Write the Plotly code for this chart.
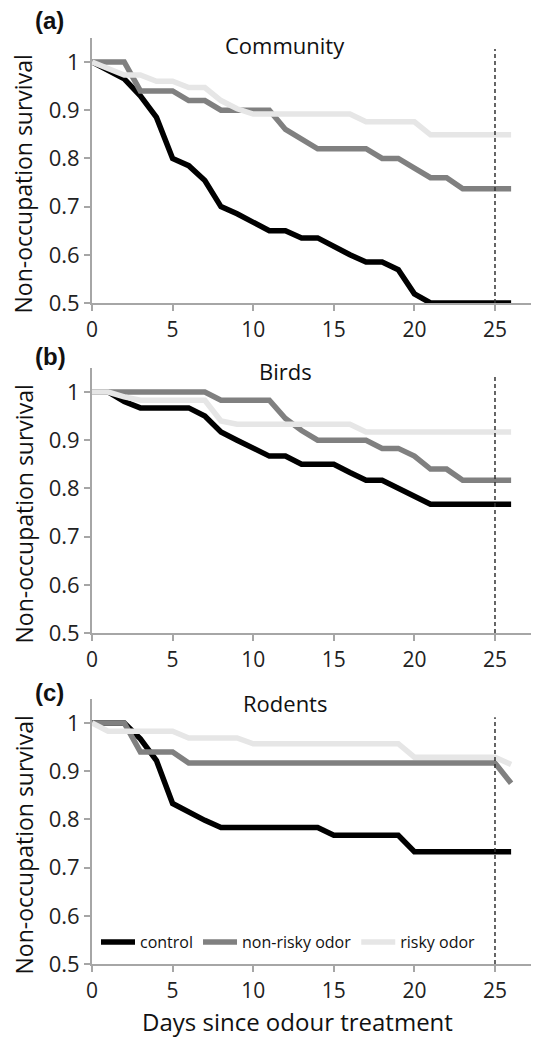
import plotly.graph_objects as go

days = list(range(27))

# Community
comm_control = [1.0, 0.983, 0.965, 0.93, 0.885, 0.80, 0.785, 0.754, 0.70, 0.685, 0.667, 0.65, 0.65,
                0.635, 0.635, 0.617, 0.60, 0.585, 0.585, 0.569, 0.519, 0.50, 0.50, 0.50, 0.50, 0.50, 0.50]
comm_nonrisky = [1.0, 1.0, 1.0, 0.94, 0.94, 0.94, 0.92, 0.92, 0.90, 0.90, 0.90, 0.90, 0.86, 0.84,
                 0.82, 0.82, 0.82, 0.82, 0.80, 0.80, 0.78, 0.76, 0.76, 0.737, 0.737, 0.737, 0.737]
comm_risky = [1.0, 0.985, 0.973, 0.973, 0.96, 0.96, 0.947, 0.947, 0.92, 0.903, 0.892, 0.892, 0.892,
              0.892, 0.892, 0.892, 0.892, 0.876, 0.876, 0.876, 0.876, 0.849, 0.849, 0.849, 0.849,
              0.849, 0.849]

# Birds
bird_control = [1.0, 1.0, 0.98, 0.967, 0.967, 0.967, 0.967, 0.95, 0.917, 0.90, 0.883, 0.867, 0.867,
                0.85, 0.85, 0.85, 0.833, 0.817, 0.817, 0.80, 0.783, 0.767, 0.767, 0.767, 0.767,
                0.767, 0.767]
bird_nonrisky = [1.0, 1.0, 1.0, 1.0, 1.0, 1.0, 1.0, 1.0, 0.983, 0.983, 0.983, 0.983, 0.945, 0.92,
                 0.90, 0.90, 0.90, 0.90, 0.883, 0.883, 0.867, 0.84, 0.84, 0.817, 0.817, 0.817, 0.817]
bird_risky = [1.0, 1.0, 0.99, 0.983, 0.983, 0.983, 0.983, 0.983, 0.94, 0.933, 0.933, 0.933, 0.933,
              0.933, 0.933, 0.933, 0.933, 0.917, 0.917, 0.917, 0.917, 0.917, 0.917, 0.917, 0.917,
              0.917, 0.917]

# Rodents
rod_control = [1.0, 1.0, 1.0, 0.967, 0.922, 0.833, 0.815, 0.798, 0.783, 0.783, 0.783, 0.783, 0.783,
               0.783, 0.783, 0.767, 0.767, 0.767, 0.767, 0.767, 0.733, 0.733, 0.733, 0.733, 0.733,
               0.733, 0.733]
rod_nonrisky = [1.0, 1.0, 1.0, 0.94, 0.94, 0.94, 0.917, 0.917, 0.917, 0.917, 0.917, 0.917, 0.917,
                0.917, 0.917, 0.917, 0.917, 0.917, 0.917, 0.917, 0.917, 0.917, 0.917, 0.917, 0.917,
                0.917, 0.875]
rod_risky = [1.0, 0.983, 0.983, 0.983, 0.983, 0.983, 0.969, 0.969, 0.969, 0.969, 0.957, 0.957, 0.957,
             0.957, 0.957, 0.957, 0.957, 0.957, 0.957, 0.957, 0.929, 0.929, 0.929, 0.929, 0.929,
             0.929, 0.914]

panel_titles = ["Community", "Birds", "Rodents"]
panel_letters = ["(a)", "(b)", "(c)"]
series_names = ["control", "non-risky odor", "risky odor"]
y_tickvals = [0.5, 0.6, 0.7, 0.8, 0.9, 1.0]
y_ticktext = ["0.5", "0.6", "0.7", "0.8", "0.9", "1"]
x_tickvals = [0, 5, 10, 15, 20, 25]
cutoff_day = 25

panels = [
    (comm_control, comm_nonrisky, comm_risky),
    (bird_control, bird_nonrisky, bird_risky),
    (rod_control, rod_nonrisky, rod_risky),
]

colors = ["#000000", "#808080", "#e6e6e6"]
FONT = "Open Sans"

# page has an 8px body margin; figure is sized/positioned to compensate
OFF = 8
W, HH = 531, 1032
LM = 84
PW = W - LM


def py(y_page):
    return 1 - (y_page - OFF) / HH


def px(x_page):
    return (x_page - OFF - LM) / PW


# page-pixel layout for each panel: y of 0.5 line; axis top is at 1.05
panel_bottom = [303, 633, 964]
span = 241.0
dash_top = [1.027, 1.035, 1.012]
letter_y = [20, 357, 692]
title_y = [45, 371, 703]

fig = go.Figure()
axis_col = "#a6a6a6"

for i, series in enumerate(panels):
    ybot = panel_bottom[i]
    ytop = ybot - span * 1.1
    xa = "x" if i == 0 else f"x{i+1}"
    ya = "y" if i == 0 else f"y{i+1}"
    for j, vals in enumerate(series):
        fig.add_trace(go.Scatter(
            x=days, y=vals, mode="lines", name=series_names[j],
            line=dict(color=colors[j], width=5.5),
            xaxis=xa, yaxis=ya, showlegend=(i == 2),
        ))
    dom = [py(ybot), py(ytop)]
    xkey = "xaxis" if i == 0 else f"xaxis{i+1}"
    ykey = "yaxis" if i == 0 else f"yaxis{i+1}"
    fig.update_layout({
        xkey: dict(domain=[0, 1], anchor=ya, range=[0, 27.73], tickvals=x_tickvals,
                   showline=True, linecolor=axis_col, linewidth=2, ticks="outside",
                   tickcolor=axis_col, ticklen=6, tickwidth=2, showgrid=False, zeroline=False,
                   ticklabelstandoff=1,
                   tickfont=dict(family=FONT, size=21, color="#222"), automargin=False),
        ykey: dict(domain=dom, anchor=xa, range=[0.5, 1.05], tickvals=y_tickvals,
                   ticktext=y_ticktext, showline=True, linecolor=axis_col, linewidth=2,
                   ticks="outside", tickcolor=axis_col, ticklen=6, tickwidth=2, showgrid=False,
                   zeroline=False, tickfont=dict(family=FONT, size=22, color="#222"),
                   automargin=False),
    })
    fig.add_shape(type="line", xref=xa, yref=ya, x0=cutoff_day, x1=cutoff_day, y0=0.5,
                  y1=dash_top[i], line=dict(color="#333", width=1.5, dash="4px,3px"))
    fig.add_annotation(text=panel_titles[i], xref="paper", yref="paper",
                       x=px(285), y=py(title_y[i]), yanchor="middle", showarrow=False,
                       font=dict(family=FONT, size=22, color="#111"))
    fig.add_annotation(text=f"<b>{panel_letters[i]}</b>", xref="paper", yref="paper",
                       x=px(33), y=py(letter_y[i]), xanchor="left", yanchor="middle",
                       showarrow=False, font=dict(family="Liberation Sans", size=24, color="#111"))
    fig.add_annotation(text="Non-occupation survival", xref="paper", yref="paper",
                       x=px(23), y=py((ybot + ybot - span) / 2 + 2), textangle=-90,
                       xanchor="center", yanchor="middle", showarrow=False,
                       font=dict(family=FONT, size=23, color="#111"))

fig.add_annotation(text="Days since odour treatment", xref="paper", yref="paper",
                   x=px(297), y=py(1021), yanchor="middle", showarrow=False,
                   font=dict(family=FONT, size=24, color="#111"))

fig.update_layout(
    width=W, height=HH,
    margin=dict(l=LM, r=0, t=0, b=0),
    paper_bgcolor="white", plot_bgcolor="white",
    legend=dict(orientation="h", x=px(96), y=py(942), xanchor="left", yanchor="middle",
                bgcolor="rgba(0,0,0,0)", font=dict(family=FONT, size=16, color="#111"),
                itemwidth=34, tracegroupgap=0),
)

fig.write_html("out.html")
